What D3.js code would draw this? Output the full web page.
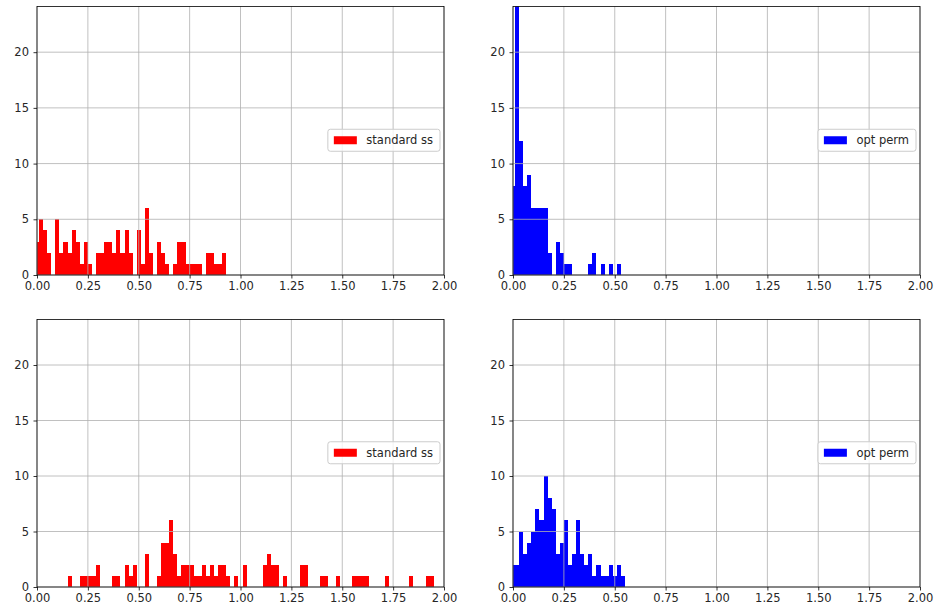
<!DOCTYPE html>
<html>
<head>
<meta charset="utf-8">
<script src="https://cdn.jsdelivr.net/npm/d3@7"></script>
<style>
  body { margin: 0; background: #fff; }
  svg { display: block; font-family: "DejaVu Sans", sans-serif; }
</style>
</head>
<body>
<div id="chart"></div>
<script>
// histogram counts, one value per bin of width 0.02 centred on 0, 0.02, 0.04, ...
const binWidth = 0.02;
const standardTop = [3,5,4,2,0,5,2,3,2,4,3,1,3,1,0,2,2,3,3,2,4,2,4,2,0,4,1,6,2,0,3,2,1,0,1,3,3,1,1,1,1,0,2,2,1,1,2];
const optTop = [8,25,12,8,9,6,6,6,6,2,0,3,2,1,1,0,0,0,0,1,2,0,1,0,1,0,1];
const standardBottom = [0,0,0,0,0,0,0,0,1,0,0,1,1,1,1,2,0,0,0,1,1,0,2,1,2,0,0,3,0,0,
  1,4,4,6,3,1,2,2,2,1,1,2,1,2,1,2,2,1,0,1,0,2,0,0,0,0,2,3,2,2,
  0,1,0,0,0,2,2,0,0,0,1,1,0,0,1,0,0,0,1,1,1,1,0,0,0,0,1,0,0,0,
  0,0,1,0,0,0,1,1];
const optBottom = [2,2,5,3,4,5,7,6,10,8,7,3,4,6,2,3,6,3,2,3,1,2,1,1,2,1,2,1];

const xTicks = [0, 0.25, 0.5, 0.75, 1, 1.25, 1.5, 1.75, 2];
const yTicks = [0, 5, 10, 15, 20];
const xDomain = [0, 2];
const yDomain = [0, 24.1];

const width = 935, height = 606;
const fontSize = 11.5;

const svg = d3.select("#chart")
  .append("svg")
  .attr("width", width)
  .attr("height", height);

const panels = [
  {id: "tl", counts: standardTop, color: "#ff0000", label: "standard ss", left: 37, right: 444, top: 6.5, bottom: 275},
  {id: "tr", counts: optTop, color: "#0000ff", label: "opt perm", left: 513, right: 920, top: 6.5, bottom: 275},
  {id: "bl", counts: standardBottom, color: "#ff0000", label: "standard ss", left: 37, right: 444, top: 319.5, bottom: 587},
  {id: "br", counts: optBottom, color: "#0000ff", label: "opt perm", left: 513, right: 920, top: 319.5, bottom: 587}
];

panels.forEach(p => drawPanel(p));

function drawPanel(p) {
  let x = d3.scaleLinear().domain(xDomain).range([p.left, p.right]);
  let y = d3.scaleLinear().domain(yDomain).range([p.bottom, p.top]);

  let g = svg.append("g").attr("class", "panel");

  g.append("clipPath")
    .attr("id", "clip-" + p.id)
    .append("rect")
    .attr("x", p.left)
    .attr("y", p.top)
    .attr("width", p.right - p.left)
    .attr("height", p.bottom - p.top);

  let bins = p.counts.map((c, i) => ({x0: i * binWidth - binWidth / 2, x1: i * binWidth + binWidth / 2, count: c}))
    .filter(b => b.count > 0);

  // bars
  g.append("g")
    .attr("clip-path", "url(#clip-" + p.id + ")")
    .attr("shape-rendering", "crispEdges")
    .selectAll("rect")
    .data(bins)
    .enter()
    .append("rect")
    .attr("x", d => Math.round(x(d.x0)))
    .attr("width", d => Math.round(x(d.x1)) - Math.round(x(d.x0)))
    .attr("y", d => y(d.count))
    .attr("height", d => y(0) - y(d.count))
    .attr("fill", p.color);

  // grid (matplotlib draws it above the patches)
  let grid = g.append("g").attr("stroke", "#b0b0b0").attr("stroke-width", 0.8);
  grid.selectAll(".gx")
    .data(xTicks)
    .enter()
    .append("line")
    .attr("x1", d => x(d)).attr("x2", d => x(d))
    .attr("y1", p.top).attr("y2", p.bottom);
  grid.selectAll(".gy")
    .data(yTicks)
    .enter()
    .append("line")
    .attr("x1", p.left).attr("x2", p.right)
    .attr("y1", d => y(d)).attr("y2", d => y(d));

  // axes
  let xAxis = d3.axisBottom(x)
    .tickValues(xTicks)
    .tickFormat(d3.format(".2f"))
    .tickSize(3.5)
    .tickPadding(3);
  let yAxis = d3.axisLeft(y)
    .tickValues(yTicks)
    .tickSize(3.5)
    .tickPadding(4.5);

  let gx = g.append("g").attr("transform", `translate(0,${p.bottom})`).call(xAxis);
  let gy = g.append("g").attr("transform", `translate(${p.left},0)`).call(yAxis);
  [gx, gy].forEach(a => {
    a.select(".domain").remove();
    a.selectAll("line").attr("stroke", "#000").attr("stroke-width", 0.8);
    a.selectAll("text")
      .attr("fill", "#262626")
      .style("font-size", fontSize + "px")
      .style("font-family", "DejaVu Sans, sans-serif");
  });

  // spines
  g.append("rect")
    .attr("x", p.left)
    .attr("y", p.top)
    .attr("width", p.right - p.left)
    .attr("height", p.bottom - p.top)
    .attr("fill", "none")
    .attr("stroke", "#000")
    .attr("stroke-width", 0.8);

  // legend, centre right
  let legend = g.append("g");
  let box = legend.append("rect")
    .attr("fill", "#fff")
    .attr("fill-opacity", 0.8)
    .attr("stroke", "#cccccc")
    .attr("stroke-width", 1)
    .attr("rx", 2.5);
  let patch = legend.append("rect")
    .attr("fill", p.color)
    .attr("width", 23)
    .attr("height", 8);
  let label = legend.append("text")
    .text(p.label)
    .attr("fill", "#262626")
    .style("font-size", fontSize + "px")
    .attr("dominant-baseline", "central");

  let tw = label.node().getComputedTextLength();
  let bw = 6 + 23 + 9.5 + tw + 7;
  let bh = 22;
  let bx = p.right - 4 - bw;
  let cy = (p.top + p.bottom) / 2 - 0.5;
  box.attr("x", bx).attr("y", cy - bh / 2).attr("width", bw).attr("height", bh);
  patch.attr("x", bx + 6).attr("y", cy - 4);
  label.attr("x", bx + 6 + 23 + 9.5).attr("y", cy);
}
</script>
</body>
</html>
